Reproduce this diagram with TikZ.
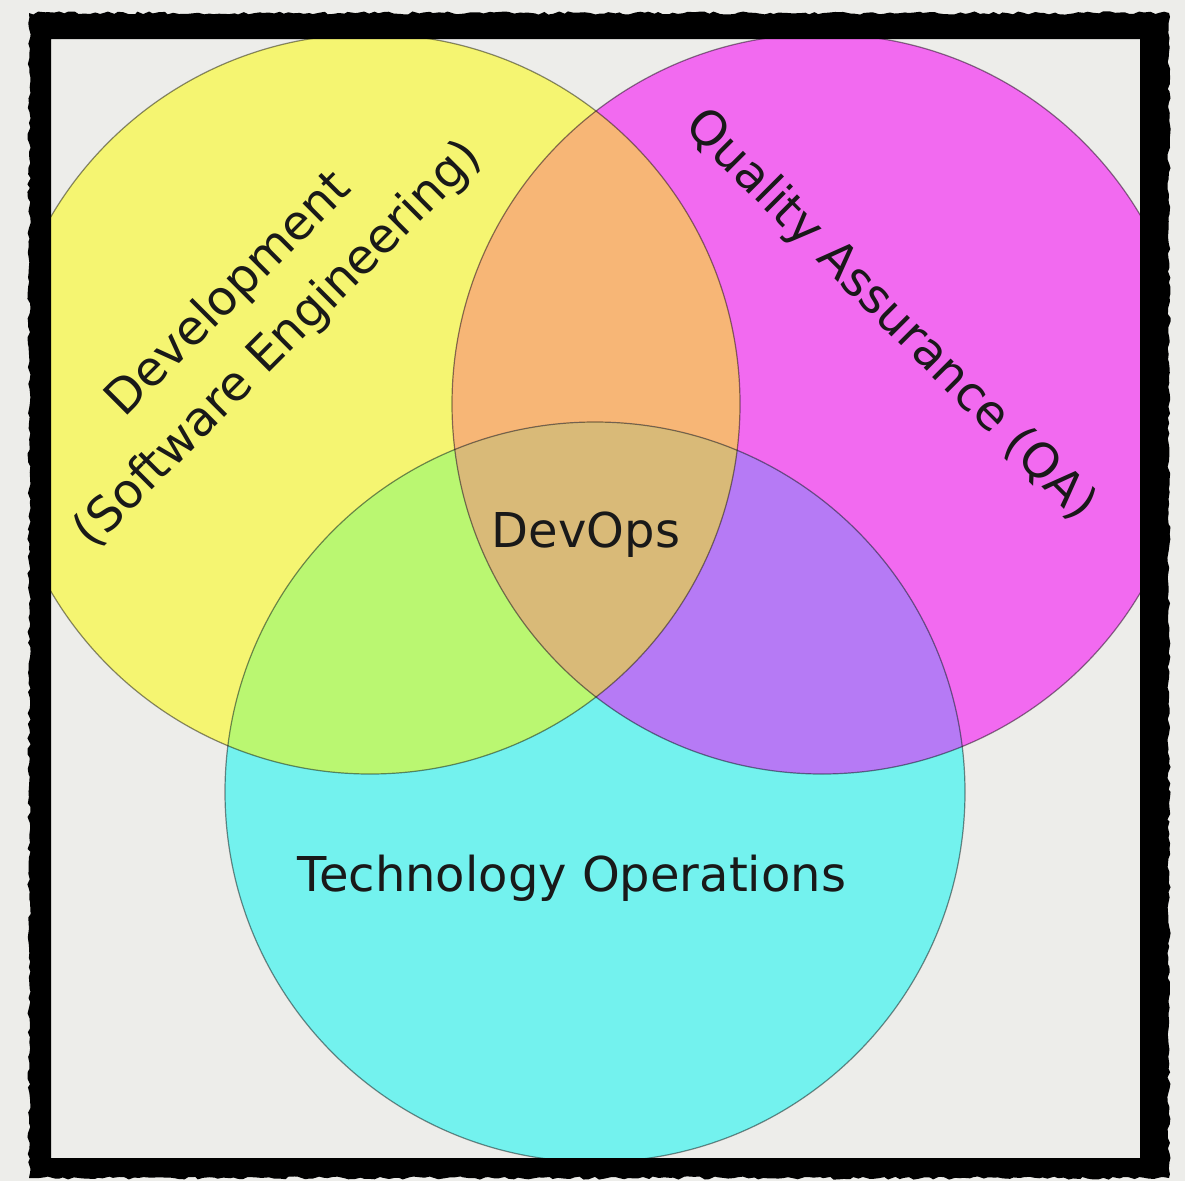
\documentclass[tikz,border=0pt]{standalone}
\usepackage{fontspec}
\setmainfont{DejaVu Sans}
\usetikzlibrary{decorations.pathmorphing}

\definecolor{paper}{HTML}{EDEDEA}
\definecolor{devyellow}{HTML}{F5F571}
\definecolor{qapink}{HTML}{F26AF0}
\definecolor{opscyan}{HTML}{73F2EE}
\definecolor{devqa}{HTML}{F7B676}
\definecolor{devops}{HTML}{BAF771}
\definecolor{qaops}{HTML}{B67AF5}
\definecolor{allthree}{HTML}{D9BA78}

\tikzset{
    ring/.style={draw=black, draw opacity=0.45, line width=1.2pt},
    areatext/.style={align=center, inner sep=0pt, font=\fontsize{48}{70}\selectfont, text=black!90},
    brushframe/.style={black, even odd rule, decoration={random steps, segment length=5pt, amplitude=1.6pt}},
}

\begin{document}
\begin{tikzpicture}[x=1pt, y=-1pt]
    \pgfmathsetseed{7}
    \useasboundingbox (0,0) rectangle (1185,1181);
    \fill[paper] (0,0) rectangle (1185,1181);

    % circle centres
    \coordinate (dev) at (370,404);
    \coordinate (qa)  at (822,404);
    \coordinate (ops) at (595,792);
    \def\r{370pt}

    \begin{scope}
        \clip (51,39) rectangle (1140,1158);
        \fill[devyellow] (dev) circle[radius=\r];
        \fill[qapink]    (qa)  circle[radius=\r];
        \fill[opscyan]   (ops) circle[radius=\r];
        \begin{scope}
            \clip (dev) circle[radius=\r];
            \fill[devqa]  (qa)  circle[radius=\r];
            \fill[devops] (ops) circle[radius=\r];
        \end{scope}
        \begin{scope}
            \clip (qa) circle[radius=\r];
            \fill[qaops] (ops) circle[radius=\r];
        \end{scope}
        \begin{scope}
            \clip (dev) circle[radius=\r];
            \clip (qa)  circle[radius=\r];
            \fill[allthree] (ops) circle[radius=\r];
        \end{scope}
        \draw[ring] (dev) circle[radius=\r];
        \draw[ring] (qa)  circle[radius=\r];
        \draw[ring] (ops) circle[radius=\r];
    \end{scope}

    % frame
    \fill[brushframe] decorate {(29,13) rectangle (1169,1178)} (51,39) rectangle (1140,1158);

    \node[areatext, rotate=45]  (dev text) at (254,320) {Development\\(Software Engineering)};
    \node[areatext, rotate=-45] (qa text)  at (890,316) {Quality Assurance (QA)};
    \node[areatext]             (ops text) at (572,878) {Technology Operations};
    \node[areatext]             (all text) at (586,535) {DevOps};
\end{tikzpicture}
\end{document}
